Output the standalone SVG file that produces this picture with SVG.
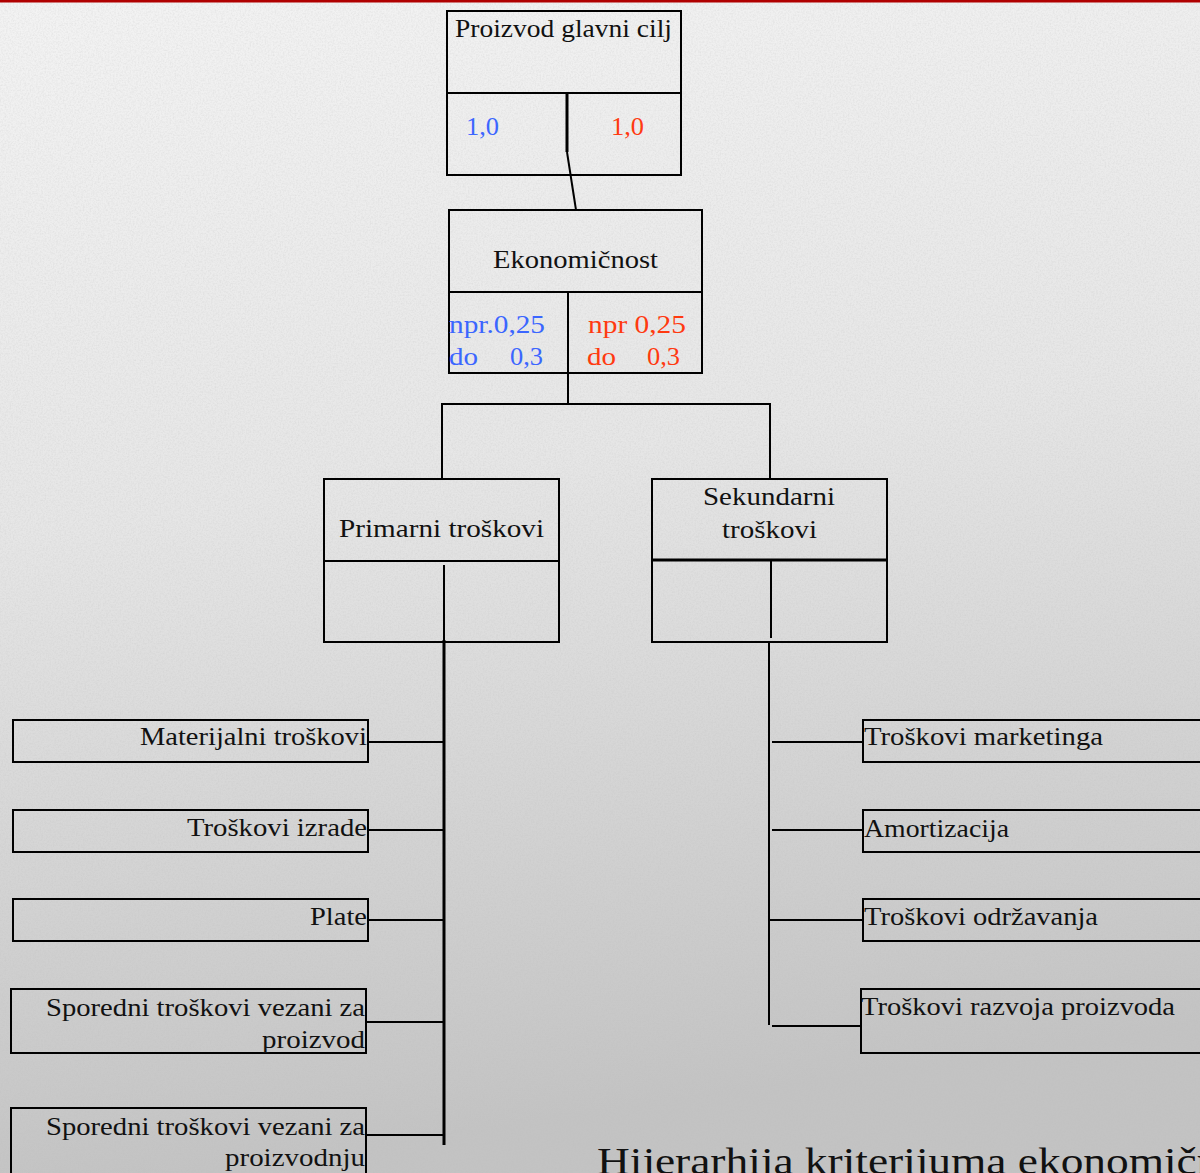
<svg xmlns="http://www.w3.org/2000/svg" width="1200" height="1173" viewBox="0 0 1200 1173">
  <defs>
    <linearGradient id="bg" x1="0" y1="0" x2="0.15" y2="1">
      <stop offset="0" stop-color="#f3f3f3"/>
      <stop offset="0.45" stop-color="#e6e6e6"/>
      <stop offset="1" stop-color="#c3c3c3"/>
    </linearGradient>
    <filter id="grain" x="0" y="0" width="100%" height="100%">
      <feTurbulence type="fractalNoise" baseFrequency="0.6" numOctaves="3" seed="4"/>
      <feColorMatrix type="matrix" values="0 0 0 0 0.5  0 0 0 0 0.5  0 0 0 0 0.5  0 0 0 -1.6 1.0"/>
    </filter>
    <style>
      .box { fill: none; stroke: #000; stroke-width: 2; }
      .ln { stroke: #000; stroke-width: 2; fill: none; }
      .thick { stroke: #000; stroke-width: 3; fill: none; }
      .t { font-family: "Liberation Serif", "DejaVu Serif", serif; font-size: 26px; fill: #111; }
      .blue { fill: #3b66ff; }
      .red { fill: #ff3a10; }
      .title { font-family: "Liberation Serif", "DejaVu Serif", serif; font-size: 38px; fill: #111; }
    </style>
  </defs>

  <!-- paper background -->
  <rect x="0" y="0" width="1200" height="1173" fill="url(#bg)"/>
  <rect x="0" y="0" width="1200" height="1173" filter="url(#grain)" opacity="0.28"/>
  <rect x="0" y="0" width="1200" height="2.5" fill="#b00000"/>

  <!-- connectors -->
  <g id="connectors">
    <line class="thick" x1="567" y1="93" x2="567" y2="152"/>
    <line class="ln" x1="567" y1="152" x2="576" y2="210"/>
    <line class="ln" x1="568" y1="292" x2="568" y2="404"/>
    <polyline class="ln" points="442,479 442,404 770,404 770,479"/>
    <line class="ln" x1="444" y1="565" x2="444" y2="640"/>
    <line class="thick" x1="444" y1="640" x2="444" y2="1145"/>
    <line class="ln" x1="771" y1="561" x2="771" y2="638"/>
    <line class="ln" x1="769" y1="642" x2="769" y2="1025"/>
    <line class="ln" x1="368" y1="742" x2="444" y2="742"/>
    <line class="ln" x1="368" y1="830" x2="444" y2="830"/>
    <line class="ln" x1="368" y1="920" x2="444" y2="920"/>
    <line class="ln" x1="366" y1="1022" x2="444" y2="1022"/>
    <line class="ln" x1="366" y1="1135" x2="444" y2="1135"/>
    <line class="ln" x1="772" y1="742" x2="863" y2="742"/>
    <line class="ln" x1="772" y1="830" x2="863" y2="830"/>
    <line class="ln" x1="770" y1="920" x2="863" y2="920"/>
    <line class="ln" x1="772" y1="1026" x2="861" y2="1026"/>
  </g>

  <g id="goal">
    <rect class="box" x="447" y="11" width="234" height="164"/>
    <line class="ln" x1="447" y1="93" x2="681" y2="93"/>
    <text class="t" x="455" y="37" textLength="217" lengthAdjust="spacingAndGlyphs">Proizvod glavni cilj</text>
    <text class="t blue" x="466" y="135" textLength="33" lengthAdjust="spacingAndGlyphs">1,0</text>
    <text class="t red" x="611" y="135" textLength="33" lengthAdjust="spacingAndGlyphs">1,0</text>
  </g>

  <g id="ekonomicnost">
    <rect class="box" x="449" y="210" width="253" height="163"/>
    <line class="ln" x1="449" y1="292" x2="702" y2="292"/>
    <text class="t" x="493" y="268" textLength="165" lengthAdjust="spacingAndGlyphs">Ekonomičnost</text>
    <text class="t blue" x="449" y="333" textLength="96" lengthAdjust="spacingAndGlyphs">npr.0,25</text>
    <text class="t blue" x="449" y="365" textLength="29" lengthAdjust="spacingAndGlyphs">do</text>
    <text class="t blue" x="510" y="365" textLength="33" lengthAdjust="spacingAndGlyphs">0,3</text>
    <text class="t red" x="588" y="333" textLength="98" lengthAdjust="spacingAndGlyphs">npr 0,25</text>
    <text class="t red" x="587" y="365" textLength="29" lengthAdjust="spacingAndGlyphs">do</text>
    <text class="t red" x="647" y="365" textLength="33" lengthAdjust="spacingAndGlyphs">0,3</text>
  </g>

  <g id="primarni">
    <rect class="box" x="324" y="479" width="235" height="163"/>
    <line class="ln" x1="324" y1="561" x2="559" y2="561"/>
    <text class="t" x="339" y="537" textLength="205" lengthAdjust="spacingAndGlyphs">Primarni troškovi</text>
  </g>

  <g id="sekundarni">
    <rect class="box" x="652" y="479" width="235" height="163"/>
    <line class="thick" x1="652" y1="560" x2="887" y2="560"/>
    <text class="t" x="703" y="505" textLength="132" lengthAdjust="spacingAndGlyphs">Sekundarni</text>
    <text class="t" x="722" y="538" textLength="95" lengthAdjust="spacingAndGlyphs">troškovi</text>
  </g>

  <g id="materijalni">
    <rect class="box" x="13" y="720" width="355" height="42"/>
    <text class="t" x="140" y="745" textLength="227" lengthAdjust="spacingAndGlyphs">Materijalni troškovi</text>
  </g>
  <g id="izrada">
    <rect class="box" x="13" y="810" width="355" height="42"/>
    <text class="t" x="187" y="836" textLength="180" lengthAdjust="spacingAndGlyphs">Troškovi izrade</text>
  </g>
  <g id="plate">
    <rect class="box" x="13" y="899" width="355" height="42"/>
    <text class="t" x="310" y="925" textLength="57" lengthAdjust="spacingAndGlyphs">Plate</text>
  </g>
  <g id="sporedni-proizvod">
    <rect class="box" x="11" y="989" width="355" height="64"/>
    <text class="t" x="46" y="1016" textLength="319" lengthAdjust="spacingAndGlyphs">Sporedni troškovi vezani za</text>
    <text class="t" x="262" y="1048" textLength="103" lengthAdjust="spacingAndGlyphs">proizvod</text>
  </g>
  <g id="sporedni-proizvodnja">
    <rect class="box" x="11" y="1108" width="355" height="70"/>
    <text class="t" x="46" y="1135" textLength="319" lengthAdjust="spacingAndGlyphs">Sporedni troškovi vezani za</text>
    <text class="t" x="225" y="1166" textLength="140" lengthAdjust="spacingAndGlyphs">proizvodnju</text>
  </g>

  <g id="marketing">
    <rect class="box" x="863" y="720" width="345" height="42"/>
    <text class="t" x="864" y="745" textLength="239" lengthAdjust="spacingAndGlyphs">Troškovi marketinga</text>
  </g>
  <g id="amortizacija">
    <rect class="box" x="863" y="810" width="345" height="42"/>
    <text class="t" x="864" y="837" textLength="145" lengthAdjust="spacingAndGlyphs">Amortizacija</text>
  </g>
  <g id="odrzavanje">
    <rect class="box" x="863" y="899" width="345" height="42"/>
    <text class="t" x="864" y="925" textLength="234" lengthAdjust="spacingAndGlyphs">Troškovi održavanja</text>
  </g>
  <g id="razvoj">
    <rect class="box" x="861" y="989" width="347" height="64"/>
    <text class="t" x="861" y="1015" textLength="314" lengthAdjust="spacingAndGlyphs">Troškovi razvoja proizvoda</text>
  </g>

  <text class="title" x="597" y="1174" textLength="688" lengthAdjust="spacingAndGlyphs">Hijerarhija kriterijuma ekonomičnosti</text>
</svg>
